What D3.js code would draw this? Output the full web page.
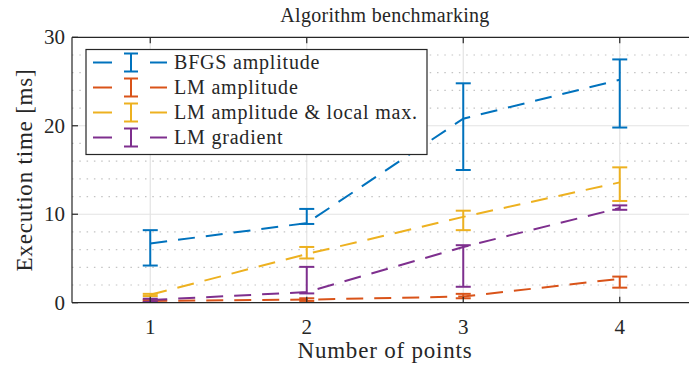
<!DOCTYPE html>
<html>
<head>
<meta charset="utf-8">
<script src="https://cdn.jsdelivr.net/npm/d3@7"></script>
<style>
  html, body { margin: 0; padding: 0; background: #fff; }
  svg { display: block; }
</style>
</head>
<body>
<svg id="chart" width="689" height="365"></svg>
<script>
// Benchmark data: mean execution time with lower/upper error limits (ms)
const categories = [1, 2, 3, 4];

const bfgsAmpMean = [6.7, 9.0, 20.8, 25.2];
const bfgsAmpLow  = [4.2, 8.9, 15.0, 19.8];
const bfgsAmpHigh = [8.2, 10.6, 24.8, 27.5];

const lmAmpMean = [0.2, 0.35, 0.7, 2.7];
const lmAmpLow  = [0.1, 0.2, 0.5, 1.7];
const lmAmpHigh = [0.3, 0.5, 1.0, 2.95];

const lmLocMean = [0.9, 5.5, 9.7, 13.6];
const lmLocLow  = [0.75, 5.0, 8.2, 11.5];
const lmLocHigh = [1.0, 6.3, 10.4, 15.3];

const lmGradMean = [0.3, 1.2, 6.3, 10.7];
const lmGradLow  = [0.1, 1.05, 1.8, 10.5];
const lmGradHigh = [0.45, 4.05, 6.5, 11.0];

const seriesNames = ["BFGS amplitude", "LM amplitude", "LM amplitude & local max.", "LM gradient"];
const seriesColors = ["#0072BD", "#D95319", "#EDB120", "#7E2F8E"];

const xTicks = [1, 2, 3, 4];
const yTicks = [0, 10, 20, 30];
const yMinorTicks = [2, 4, 6, 8, 12, 14, 16, 18, 22, 24, 26, 28];

const series = [
  { mean: bfgsAmpMean, low: bfgsAmpLow, high: bfgsAmpHigh },
  { mean: lmAmpMean, low: lmAmpLow, high: lmAmpHigh },
  { mean: lmLocMean, low: lmLocLow, high: lmLocHigh },
  { mean: lmGradMean, low: lmGradLow, high: lmGradHigh }
].map((s, i) => ({ ...s, name: seriesNames[i], color: seriesColors[i] }));

const FONT = "'Liberation Serif', 'DejaVu Serif', 'Times New Roman', serif";
const svg = d3.select("#chart")
  .attr("font-family", FONT);
const plotLeft = 72, plotRight = 698, plotTop = 37.3, plotBottom = 302.7;

const x = d3.scaleLinear().domain([0.5, 4.5]).range([plotLeft, plotRight]);
const y = d3.scaleLinear().domain([0, 30]).range([plotBottom, plotTop]);

const ink = "#262626";
const capHalf = 7.5;
const dash = "17,11";

// Minor grid (dotted)
svg.append("g").selectAll("line").data(yMinorTicks).join("line")
  .attr("x1", plotLeft).attr("x2", plotRight)
  .attr("y1", d => y(d)).attr("y2", d => y(d))
  .attr("stroke", "#c4c4c4").attr("stroke-width", 1.2)
  .attr("stroke-dasharray", "1.5,5.8");

// Major grid
const grid = svg.append("g").attr("stroke", "#e3e3e3").attr("stroke-width", 1.2);
grid.selectAll("line.gx").data(xTicks).join("line").attr("class", "gx")
  .attr("x1", d => x(d)).attr("x2", d => x(d)).attr("y1", plotTop).attr("y2", plotBottom);
grid.selectAll("line.gy").data(yTicks.slice(1, -1)).join("line").attr("class", "gy")
  .attr("x1", plotLeft).attr("x2", plotRight).attr("y1", d => y(d)).attr("y2", d => y(d));

// Series: dashed lines with error bars
const line = d3.line().x((d, i) => x(categories[i])).y(d => y(d));
series.forEach(s => {
  const g = svg.append("g");
  g.append("path").datum(s.mean).attr("d", line)
    .attr("fill", "none").attr("stroke", s.color).attr("stroke-width", 2)
    .attr("stroke-dasharray", dash);
  const bars = g.selectAll("g").data(categories).join("g")
    .attr("stroke", s.color).attr("stroke-width", 2).attr("fill", "none");
  bars.append("line")
    .attr("x1", d => x(d)).attr("x2", d => x(d))
    .attr("y1", (d, i) => y(s.low[i])).attr("y2", (d, i) => y(s.high[i]));
  bars.append("line")
    .attr("x1", d => x(d) - capHalf).attr("x2", d => x(d) + capHalf)
    .attr("y1", (d, i) => y(s.low[i])).attr("y2", (d, i) => y(s.low[i]));
  bars.append("line")
    .attr("x1", d => x(d) - capHalf).attr("x2", d => x(d) + capHalf)
    .attr("y1", (d, i) => y(s.high[i])).attr("y2", (d, i) => y(s.high[i]));
});

// Axes box and ticks
const axisG = svg.append("g").attr("stroke", ink).attr("stroke-width", 1.2).attr("fill", "none");
axisG.append("line").attr("x1", plotLeft).attr("x2", plotRight).attr("y1", plotTop).attr("y2", plotTop);
axisG.append("line").attr("x1", plotLeft).attr("x2", plotRight).attr("y1", plotBottom).attr("y2", plotBottom);
axisG.append("line").attr("x1", plotLeft).attr("x2", plotLeft).attr("y1", plotTop).attr("y2", plotBottom);
axisG.selectAll("line.xt").data(xTicks).join("line").attr("class", "xt")
  .attr("x1", d => x(d)).attr("x2", d => x(d)).attr("y1", plotBottom).attr("y2", plotBottom - 6);
axisG.selectAll("line.xtt").data(xTicks).join("line").attr("class", "xtt")
  .attr("x1", d => x(d)).attr("x2", d => x(d)).attr("y1", plotTop).attr("y2", plotTop + 6);
axisG.selectAll("line.yt").data(yTicks).join("line").attr("class", "yt")
  .attr("x1", plotLeft).attr("x2", plotLeft + 6).attr("y1", d => y(d)).attr("y2", d => y(d));

// Tick labels
svg.append("g").attr("fill", ink).selectAll("text").data(xTicks).join("text")
  .attr("x", d => x(d)).attr("y", 334).attr("text-anchor", "middle")
  .attr("font-size", 21).text(d => d);
svg.append("g").attr("fill", ink).selectAll("text").data(yTicks).join("text")
  .attr("x", 65).attr("y", d => y(d) + 7).attr("text-anchor", "end")
  .attr("font-size", 21).text(d => d);

// Titles
const labels = svg.append("g").attr("fill", ink);
labels.append("text").attr("x", (plotLeft + plotRight) / 2).attr("y", 22)
  .attr("text-anchor", "middle").attr("font-size", 20).attr("letter-spacing", "0.3")
  .text("Algorithm benchmarking");
labels.append("text").attr("x", (plotLeft + plotRight) / 2).attr("y", 358)
  .attr("text-anchor", "middle").attr("font-size", 23).attr("letter-spacing", "0.8")
  .text("Number of points");
labels.append("text")
  .attr("transform", `translate(32,${(plotTop + plotBottom) / 2}) rotate(-90)`)
  .attr("text-anchor", "middle").attr("font-size", 23).attr("letter-spacing", "0.8")
  .text("Execution time [ms]");

// Legend
const lg = svg.append("g");
lg.append("rect").attr("x", 86).attr("y", 49.5).attr("width", 341).attr("height", 105)
  .attr("fill", "#fff").attr("stroke", ink).attr("stroke-width", 1.2);
series.forEach((s, i) => {
  const cy = 62.5 + i * 25;
  const row = lg.append("g").attr("stroke", s.color).attr("stroke-width", 2);
  row.append("line").attr("x1", 93).attr("x2", 112).attr("y1", cy).attr("y2", cy);
  row.append("line").attr("x1", 150).attr("x2", 167).attr("y1", cy).attr("y2", cy);
  row.append("line").attr("x1", 131).attr("x2", 131).attr("y1", cy - 9).attr("y2", cy + 9);
  row.append("line").attr("x1", 124).attr("x2", 138).attr("y1", cy - 9).attr("y2", cy - 9);
  row.append("line").attr("x1", 124).attr("x2", 138).attr("y1", cy + 9).attr("y2", cy + 9);
  lg.append("text").attr("x", 174).attr("y", cy + 6.5).attr("font-size", 20)
    .attr("fill", ink).attr("letter-spacing", "0.8").text(s.name);
});
</script>
</body>
</html>
